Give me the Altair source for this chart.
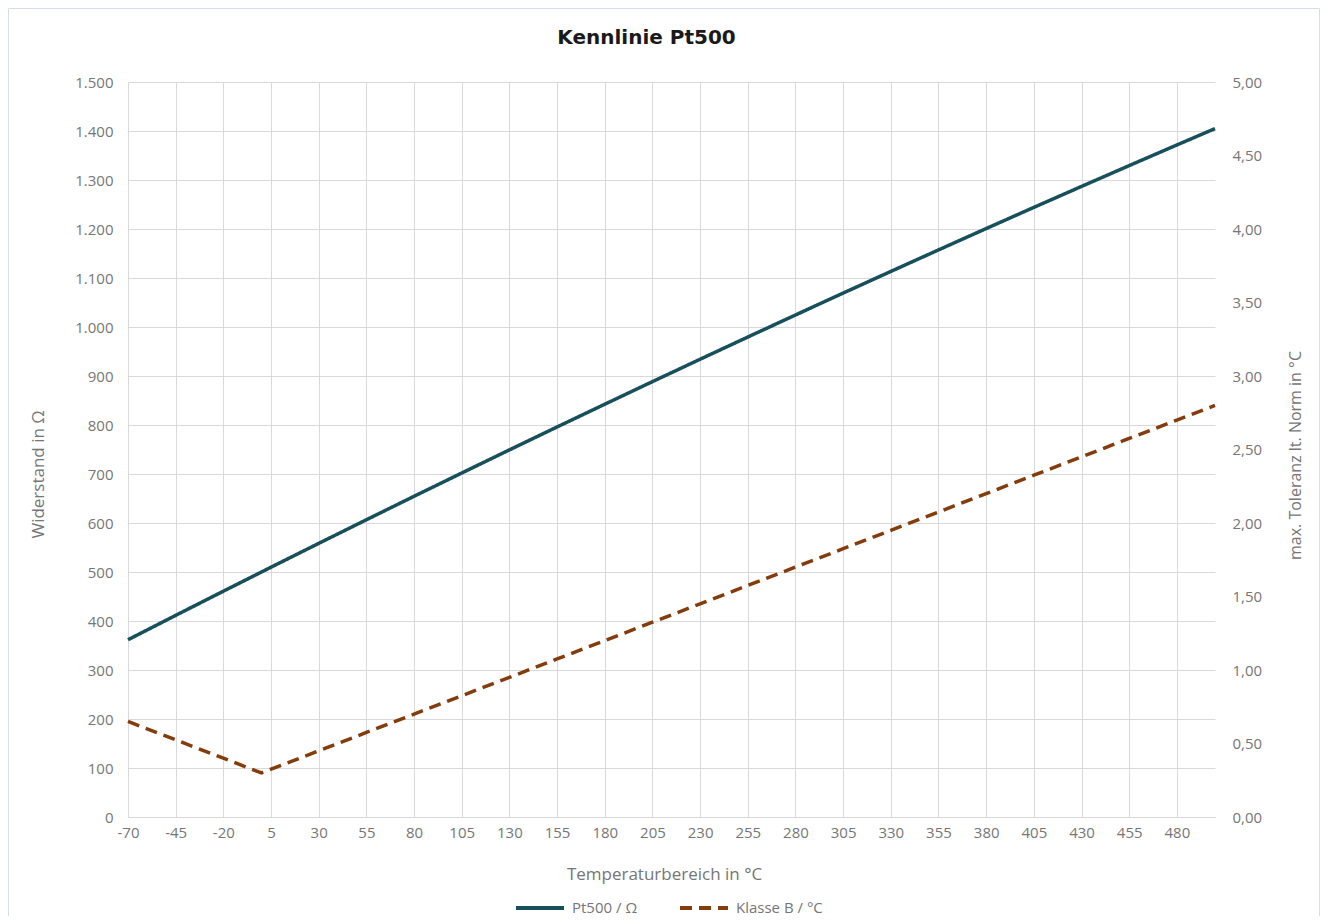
import altair as alt
import pandas as pd

# ---- data ----
S1 = "Pt500 / Ω"
S2 = "Klasse B / °C"
temps = [-70, -45, -20, 0, 5, 30, 55, 80, 105, 130, 155, 180, 205, 230, 255,
         280, 305, 330, 355, 380, 405, 430, 455, 480, 500]
pt500 = [361.7, 411.5, 460.8, 500.0, 509.8, 558.4, 606.6, 654.5, 702.0, 749.2,
         796.0, 842.4, 888.5, 934.2, 979.5, 1024.5, 1069.2, 1113.4, 1157.3,
         1200.9, 1244.1, 1286.9, 1329.4, 1371.5, 1404.9]
klasse_b = [0.65, 0.525, 0.40, 0.30, 0.325, 0.45, 0.575, 0.70, 0.825, 0.95,
            1.075, 1.20, 1.325, 1.45, 1.575, 1.70, 1.825, 1.95, 2.075, 2.20,
            2.325, 2.45, 2.575, 2.70, 2.80]
x_ticks = [-70, -45, -20, 5, 30, 55, 80, 105, 130, 155, 180, 205, 230, 255,
           280, 305, 330, 355, 380, 405, 430, 455, 480]
left_ticks = [0, 100, 200, 300, 400, 500, 600, 700, 800, 900, 1000, 1100,
              1200, 1300, 1400, 1500]
right_ticks = [0, 0.5, 1.0, 1.5, 2.0, 2.5, 3.0, 3.5, 4.0, 4.5, 5.0]

TEAL = "#174f5b"
BROWN = "#843c0c"
GRID = "#d9d9d9"
TXT = "#767676"
FONT = "Open Sans"

df1 = pd.DataFrame({"t": temps, "v": pt500, "s": S1})
df2 = pd.DataFrame({"t": temps, "v": klasse_b, "s": S2})
frame = pd.DataFrame({"a": [0]})

legend = alt.Legend(
    title=None, orient="none", direction="horizontal",
    legendX=386, legendY=800, symbolType="stroke", symbolSize=2304,
    symbolStrokeWidth=4, labelFont=FONT, labelFontSize=15, labelColor=TXT,
    labelOffset=6, columnPadding=34, padding=0,
)
color = alt.Color("s:N", scale=alt.Scale(domain=[S1, S2], range=[TEAL, BROWN]),
                  legend=legend)
dash = alt.StrokeDash("s:N", scale=alt.Scale(domain=[S1, S2], range=[[1, 0], [12, 7]]),
                      legend=legend)

xenc = alt.X(
    "t:Q",
    scale=alt.Scale(domain=[-70, 500], nice=False, zero=False),
    axis=alt.Axis(
        values=x_ticks, title="Temperaturbereich in °C", labelExpr="datum.value + ''",
        grid=True, gridColor=GRID, domain=True, domainColor=GRID, ticks=False,
        labelPadding=8, labelFont=FONT, labelFontSize=15, labelColor=TXT,
        titleFont=FONT, titleFontSize=17, titleFontWeight="normal", titleColor=TXT,
        titleX=536, titleY=57, titleBaseline="middle", titleAnchor="start",
        titleAlign="center", labelFlush=False,
    ),
)

frame_layer = alt.Chart(frame).mark_rect(
    fillOpacity=0, stroke="#d3deea", strokeWidth=1
).encode(
    x=alt.value(-119.5), x2=alt.value(1191.5), y=alt.value(-73.5), y2=alt.value(900)
)

line1 = alt.Chart(df1).mark_line(strokeWidth=3.5).encode(
    x=xenc,
    y=alt.Y("v:Q", scale=alt.Scale(domain=[0, 1500], nice=False),
            axis=alt.Axis(
                values=left_ticks, title="Widerstand in Ω",
                labelExpr="replace(format(datum.value, ',d'), ',', '.')",
                grid=True, gridColor=GRID, domain=False, ticks=False,
                labelPadding=15, labelFont=FONT, labelFontSize=15, labelColor=TXT,
                titleFont=FONT, titleFontSize=17, titleFontWeight="normal",
                titleColor=TXT, titleX=-90, titleY=392, titleAngle=270,
                titleBaseline="middle", titleAlign="center", titleAnchor="start",
            )),
    color=color, strokeDash=dash,
)

line2 = alt.Chart(df2).mark_line(strokeWidth=3.5).encode(
    x=xenc,
    y=alt.Y("v:Q", scale=alt.Scale(domain=[0, 5], nice=False),
            axis=alt.Axis(
                values=right_ticks, orient="right", title="max. Toleranz lt. Norm in °C",
                labelExpr="replace(format(datum.value, '.2f'), '.', ',')",
                grid=False, domain=False, ticks=False,
                labelPadding=17, labelFont=FONT, labelFontSize=15, labelColor=TXT,
                titleFont=FONT, titleFontSize=16, titleFontWeight="normal",
                titleColor=TXT, titleX=80, titleY=373, titleAngle=270,
                titleBaseline="middle", titleAlign="center", titleAnchor="start",
            )),
    color=color, strokeDash=dash,
)

chart = alt.layer(frame_layer, line1, line2).resolve_scale(
    y="independent"
).properties(
    width=1087, height=735,
    padding={"left": 120, "top": 74, "right": 106, "bottom": 99},
    autosize=alt.AutoSizeParams(type="none"),
    title=alt.Title("Kennlinie Pt500", font="DejaVu Sans", fontSize=20,
                    fontWeight="bold", color="#1a1a1a", anchor="middle",
                    baseline="alphabetic", offset=-56, dx=-25),
).configure_view(stroke=None)

chart.save("out.html", embed_options={"renderer": "svg", "actions": False})
